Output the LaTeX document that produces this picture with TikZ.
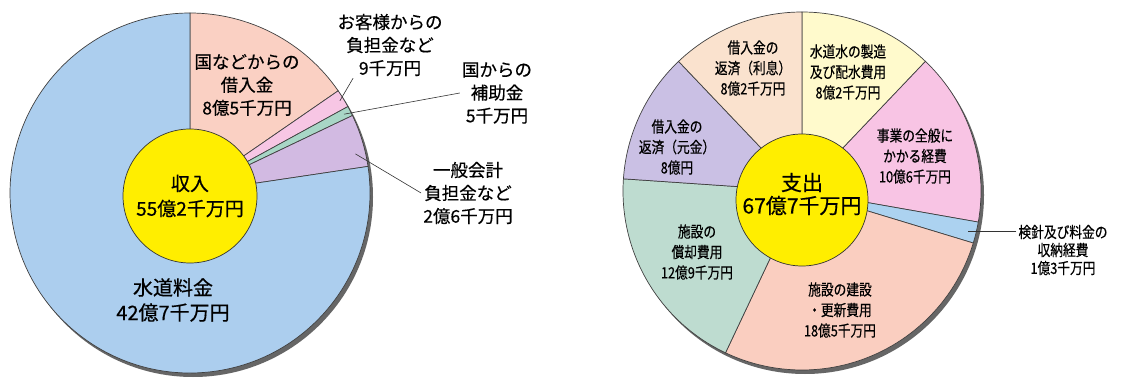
\documentclass[tikz,border=0pt]{standalone}
\usepackage{fontspec}
\setmainfont{Noto Sans CJK JP}[FakeBold=0.5]
\newfontfamily\narrowjp[FakeStretch=0.82,FakeBold=0.5]{Noto Sans CJK JP}
\usetikzlibrary{positioning}

\definecolor{incblue}{RGB}{172,206,238}
\definecolor{incsalmon}{RGB}{250,208,195}
\definecolor{incpink}{RGB}{247,198,228}
\definecolor{incmint}{RGB}{168,214,198}
\definecolor{incpurple}{RGB}{210,186,226}
\definecolor{coreyellow}{RGB}{255,238,0}
\definecolor{exppeach}{RGB}{250,226,206}
\definecolor{explemon}{RGB}{255,250,204}
\definecolor{exppink}{RGB}{248,196,228}
\definecolor{expblue}{RGB}{172,210,240}
\definecolor{expsalmon}{RGB}{250,206,192}
\definecolor{expteal}{RGB}{190,220,208}
\definecolor{explavender}{RGB}{202,192,228}

\begin{document}
\begin{tikzpicture}[x=1pt,y=1pt]
	% one unit is one pixel of the original picture
	\tikzset{slice/.style={draw=black!75,line width=0.7pt},
		pieshadow/.style={fill=black!60},
		core/.style={draw=black!80,line width=0.7pt,fill=coreyellow},
		lbl/.style={align=center,inner sep=2pt,font=\fontsize{17.5}{23}\selectfont},
		slbl/.style={align=center,inner sep=2pt,font=\narrowjp\fontsize{15.5}{20.5}\selectfont},
		leader/.style={draw=black!80,line width=0.6pt},
	}
	\useasboundingbox[fill=white] (0,0) rectangle (1122,381);
	% Left pie: income
	\coordinate (inc) at (190,188);
	\fill[pieshadow] ([shift={(3,-4)}]inc) circle (180);
	\filldraw[slice,fill=incsalmon] (inc) -- ++(90:180) arc (90:34.6:180) -- cycle;
	\filldraw[slice,fill=incpink] (inc) -- ++(34.6:180) arc (34.6:28.7:180) -- cycle;
	\filldraw[slice,fill=incmint] (inc) -- ++(28.7:180) arc (28.7:25.5:180) -- cycle;
	\filldraw[slice,fill=incpurple] (inc) -- ++(25.5:180) arc (25.5:8.5:180) -- cycle;
	\filldraw[slice,fill=incblue] (inc) -- ++(8.5:180) arc (8.5:-270:180) -- cycle;
	\filldraw[core] (190,185) circle (67);
	% The points inside the thin slices, where the leaders end.
	\coordinate (custin) at ([shift={(31.6:176)}]inc);
	\coordinate (grantin) at ([shift={(27.1:173)}]inc);
	\coordinate (genin) at ([shift={(13.3:170)}]inc);
	\node[lbl,font=\fontsize{19}{25}\selectfont] (incsum) at (190,185) {収入\\55億2千万円};
	\node[lbl] (loan) at (247,296) {国などからの\\借入金\\8億5千万円};
	\node[lbl] (cust) at (390,336) {お客様からの\\負担金など\\9千万円};
	\node[lbl] (grant) at (497,288) {国からの\\補助金\\5千万円};
	\node[lbl] (gen) at (468,188) {一般会計\\負担金など\\2億6千万円};
	\node[lbl,font=\fontsize{20}{25}\selectfont] (fee) at (173,81) {水道料金\\42億7千万円};
	\draw[leader] (cust.222) -- (custin);
	\draw[leader] (grant.west) -- (grantin);
	\draw[leader] (gen.west) -- (genin);
	% Right pie: expenditure
	\coordinate (exp) at (802,190);
	\fill[pieshadow] ([shift={(3,-4)}]exp) circle (179);
	\filldraw[slice,fill=explemon] (exp) -- ++(90:179) arc (90:46.4:179) -- cycle;
	\filldraw[slice,fill=exppink] (exp) -- ++(46.4:179) arc (46.4:-10:179) -- cycle;
	\filldraw[slice,fill=expblue] (exp) -- ++(-10:179) arc (-10:-16.9:179) -- cycle;
	\filldraw[slice,fill=expsalmon] (exp) -- ++(-16.9:179) arc (-16.9:-115.3:179) -- cycle;
	\filldraw[slice,fill=expteal] (exp) -- ++(-115.3:179) arc (-115.3:-183.9:179) -- cycle;
	\filldraw[slice,fill=explavender] (exp) -- ++(-183.9:179) arc (-183.9:-226.4:179) -- cycle;
	\filldraw[slice,fill=exppeach] (exp) -- ++(-226.4:179) arc (-226.4:-270:179) -- cycle;
	\filldraw[core] (802,181) circle (66);
	\coordinate (meterin) at ([shift={(-13.5:171)}]exp);
	\node[lbl,font=\fontsize{21}{23}\selectfont] (expsum) at (802,187) {支出\\67億7千万円};
	\node[slbl] (interest) at (753,313) {借入金の\\返済（利息）\\8億2千万円};
	\node[slbl] (supply) at (848,309) {水道水の製造\\及び配水費用\\8億2千万円};
	\node[slbl] (principal) at (677,234) {借入金の\\返済（元金）\\8億円};
	\node[slbl] (admin) at (915,225) {事業の全般に\\かかる経費\\10億6千万円};
	\node[slbl] (deprec) at (697,129) {施設の\\償却費用\\12億9千万円};
	\node[slbl] (build) at (840,71) {施設の建設\\・更新費用\\18億5千万円};
	\node[slbl,font=\narrowjp\fontsize{15.5}{18}\selectfont] (meter) at (1063,131) {検針及び料金の\\収納経費\\1億3千万円};
	\draw[leader] (meter.west |- meterin) -- (meterin);
\end{tikzpicture}
\end{document}
